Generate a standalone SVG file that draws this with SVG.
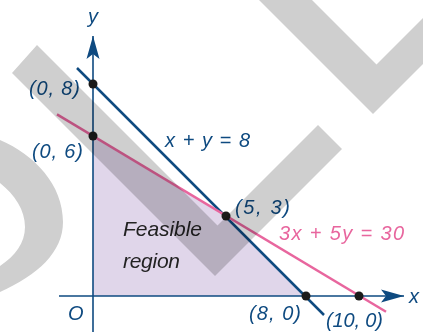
<svg xmlns="http://www.w3.org/2000/svg" width="423" height="332" viewBox="0 0 423 332">
<style>
.lbl{font-family:"Liberation Sans",Arial,sans-serif;font-style:italic;font-size:20px;fill:#0e4a80}
.pink{fill:#e8669e}
.dark{fill:#222222;font-size:21px}
.dot{fill:#1a1a1a}
.axis{stroke:#0e4a80;stroke-width:1.6;fill:none}
.wm{fill:#cfcfcf}
</style>
<defs>
<marker id="arr" markerUnits="userSpaceOnUse" viewBox="-24 -8 26 16" refX="0" refY="0" markerWidth="26" markerHeight="16" orient="auto">
<path d="M0,0 L-23,-6.5 L-18,0 L-23,6.5 Z" fill="#0e4a80"/>
</marker>
</defs>
<rect width="423" height="332" fill="#ffffff"/>
<g id="feasible-region">
<polygon points="93,296 93,136 226,216 306,296" fill="#e0d6ea"/>
<text class="lbl dark" x="123" y="236" textLength="79" lengthAdjust="spacing">Feasible</text>
<text class="lbl dark" x="123" y="268" textLength="57" lengthAdjust="spacing">region</text>
</g>
<g id="axes">
<line class="axis" x1="93" y1="332" x2="93" y2="36" marker-end="url(#arr)"/>
<line class="axis" x1="59" y1="296" x2="404" y2="296" marker-end="url(#arr)"/>
<text class="lbl" x="88" y="23">y</text>
<text class="lbl" x="409" y="303">x</text>
<text class="lbl" x="68" y="320">O</text>
</g>
<g id="connectors">
<line id="line-x-y-8" x1="77" y1="68" x2="324" y2="315" stroke="#0e4a80" stroke-width="2.5"/>
<line id="line-3x-5y-30" x1="57" y1="114.4" x2="386" y2="311.8" stroke="#e8669e" stroke-width="2.5"/>
</g>
<g id="label-x-y-8"><text class="lbl" x="165" y="147" textLength="85" lengthAdjust="spacing">x + y = 8</text></g>
<g id="label-3x-5y-30"><text class="lbl pink" x="279" y="240" textLength="125" lengthAdjust="spacing">3x + 5y = 30</text></g>
<g id="p-0-8"><circle class="dot" cx="93" cy="84" r="4.5"/><text class="lbl" x="29" y="95" textLength="51" lengthAdjust="spacing">(0, 8)</text></g>
<g id="p-0-6"><circle class="dot" cx="93" cy="136" r="4.5"/><text class="lbl" x="32" y="158" textLength="51" lengthAdjust="spacing">(0, 6)</text></g>
<g id="p-5-3"><circle class="dot" cx="226" cy="216" r="4.5"/><text class="lbl" x="235" y="214" textLength="55" lengthAdjust="spacing">(5, 3)</text></g>
<g id="p-8-0"><circle class="dot" cx="306" cy="296" r="4.5"/><text class="lbl" x="249" y="320" textLength="52" lengthAdjust="spacing">(8, 0)</text></g>
<g id="p-10-0"><circle class="dot" cx="359" cy="296" r="4.5"/><text class="lbl" x="326" y="327" textLength="57" lengthAdjust="spacing">(10, 0)</text></g>
<g id="watermark" style="mix-blend-mode:multiply">
<polygon class="wm" points="12,73 37,45 217.5,225.5 318,125 342,149 215,276"/>
<polygon class="wm" points="259,0 373,114 423,64 423,18 376.5,64.5 312,0"/>
<path class="wm" d="M0,140 C35,155 63,185 63,222 C63,252 38,275 0,292 L0,266 C15,256 25,243 25,227 C25,210 15,195 0,183 Z"/>
</g>
</svg>
